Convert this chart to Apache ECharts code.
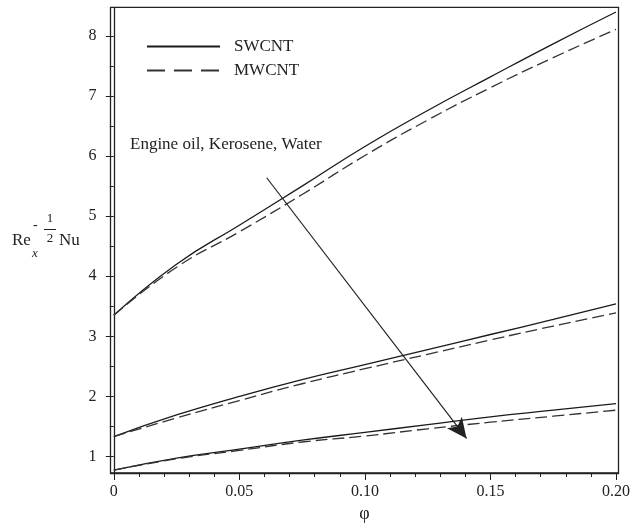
<!DOCTYPE html>
<html>
<head>
<meta charset="utf-8">
<script src="https://cdn.jsdelivr.net/npm/echarts@6/dist/echarts.min.js"></script>
<style>
  html, body { margin: 0; padding: 0; background: #fff; }
  #main { width: 630px; height: 524px; }
</style>
</head>
<body>
<div id="main"></div>
<script>
// phi values shared by every curve
var phi = [0, 0.025, 0.05, 0.075, 0.1, 0.125, 0.15, 0.175, 0.2];

// Engine oil
var oilSW = [3.35, 4.20, 4.85, 5.50, 6.16, 6.76, 7.32, 7.87, 8.40];
var oilMW = [3.35, 4.15, 4.74, 5.36, 6.01, 6.60, 7.14, 7.64, 8.11];
// Kerosene
var kerSW = [1.33, 1.69, 2.00, 2.28, 2.53, 2.78, 3.03, 3.28, 3.54];
var kerMW = [1.33, 1.64, 1.93, 2.21, 2.46, 2.70, 2.94, 3.17, 3.39];
// Water
var watSW = [0.77, 0.97, 1.12, 1.27, 1.40, 1.53, 1.66, 1.77, 1.88];
var watMW = [0.77, 0.96, 1.10, 1.24, 1.34, 1.46, 1.57, 1.67, 1.77];

var xMajor = [0, 0.05, 0.1, 0.15, 0.2];
var xMinor = [0.01, 0.02, 0.03, 0.04, 0.06, 0.07, 0.08, 0.09, 0.11, 0.12, 0.13, 0.14, 0.16, 0.17, 0.18, 0.19];
var yMajor = [1, 2, 3, 4, 5, 6, 7, 8];
var yMinor = [1.5, 2.5, 3.5, 4.5, 5.5, 6.5, 7.5];

// arrow from upper group towards lower group
var arrowFrom = [0.0609, 5.64];
var arrowTo = [0.1405, 1.30];

var serif = '"Liberation Serif", "DejaVu Serif", serif';

function pairs(ys) {
    var out = [];
    for (var i = 0; i < phi.length; i++) {
        out.push([phi[i], ys[i]]);
    }
    return out;
}

function curve(name, ys, dashed) {
    return {
        name: name,
        type: 'line',
        data: pairs(ys),
        smooth: true,
        symbol: 'none',
        silent: true,
        xAxisIndex: 0,
        yAxisIndex: 0,
        lineStyle: {
            color: dashed ? '#333' : '#1a1a1a',
            width: 1.3,
            type: dashed ? [12, 5] : 'solid'
        },
        itemStyle: { color: dashed ? '#333' : '#1a1a1a' }
    };
}

var series = [
    curve('SWCNT', oilSW, false),
    curve('MWCNT', oilMW, true),
    curve('SWCNT', kerSW, false),
    curve('MWCNT', kerMW, true),
    curve('SWCNT', watSW, false),
    curve('MWCNT', watMW, true)
];

series[0].markLine = {
    silent: true,
    symbol: ['none', 'arrow'],
    symbolSize: [14, 20],
    label: { show: false },
    lineStyle: { color: '#222', width: 1.2, type: 'solid' },
    data: [[{ coord: arrowFrom }, { coord: arrowTo }]]
};

var myChart = echarts.init(document.getElementById('main'));

var option = {
    animation: false,
    backgroundColor: '#fff',
    grid: {
        left: 110.5,
        right: 11.5,
        top: 7.3,
        bottom: 51,
        outerBoundsMode: 'none',
        show: true,
        borderColor: '#222',
        borderWidth: 1.3,
        backgroundColor: 'transparent'
    },
    legend: {
        orient: 'vertical',
        left: 141,
        top: 33,
        itemWidth: 73,
        itemHeight: 12,
        itemGap: 7,
        selectedMode: false,
        itemStyle: { opacity: 0 },
        textStyle: { fontFamily: serif, fontSize: 17, color: '#222', padding: [0, 0, 0, 9] },
        data: [
            { name: 'SWCNT' },
            { name: 'MWCNT', lineStyle: { type: [18, 9] } }
        ]
    },
    xAxis: [
        {
            type: 'value',
            min: -0.0013,
            max: 0.2010,
            name: 'φ',
            nameLocation: 'middle',
            nameGap: 32,
            nameTextStyle: { fontFamily: serif, fontSize: 18, color: '#222' },
            axisLine: { show: true, lineStyle: { color: '#222', width: 1.3 } },
            axisTick: { show: true, length: 7, customValues: xMajor, lineStyle: { color: '#222' } },
            axisLabel: {
                customValues: xMajor,
                margin: 11,
                fontFamily: serif,
                fontSize: 16,
                color: '#222',
                formatter: function (v) { return v === 0 ? '0' : v.toFixed(2); }
            },
            splitLine: { show: false }
        },
        {
            type: 'value',
            min: -0.0013,
            max: 0.2010,
            position: 'bottom',
            axisLine: { show: false },
            axisTick: { show: true, length: 4, customValues: xMinor, lineStyle: { color: '#222' } },
            axisLabel: { show: false },
            splitLine: { show: false }
        }
    ],
    yAxis: [
        {
            type: 'value',
            min: 0.724,
            max: 8.478,
            axisLine: { show: true, lineStyle: { color: '#222', width: 1.3 } },
            axisTick: { show: true, length: 8, customValues: yMajor, lineStyle: { color: '#222' } },
            axisLabel: {
                customValues: yMajor,
                margin: 14,
                fontFamily: serif,
                fontSize: 16,
                color: '#222'
            },
            splitLine: { show: false }
        },
        {
            type: 'value',
            min: 0.724,
            max: 8.478,
            position: 'left',
            axisLine: { show: false },
            axisTick: { show: true, length: 4, customValues: yMinor, lineStyle: { color: '#222' } },
            axisLabel: { show: false },
            splitLine: { show: false }
        }
    ],
    graphic: [
        {
            type: 'text', left: 130, top: 136, silent: true,
            style: { text: 'Engine oil, Kerosene, Water', font: '17px ' + serif, fill: '#222' }
        },
        // y axis title: Re_x^(-1/2) Nu
        { type: 'text', x: 12, y: 241, silent: true,
          style: { text: 'Re', font: '17px ' + serif, fill: '#222', textVerticalAlign: 'middle' } },
        { type: 'text', x: 32, y: 254, silent: true,
          style: { text: 'x', font: 'italic 13px ' + serif, fill: '#222', textVerticalAlign: 'middle' } },
        { type: 'text', x: 33, y: 225, silent: true,
          style: { text: '-', font: '14px ' + serif, fill: '#222', textVerticalAlign: 'middle' } },
        { type: 'text', x: 50, y: 219, silent: true,
          style: { text: '1', font: '13px ' + serif, fill: '#222', textAlign: 'center', textVerticalAlign: 'middle' } },
        { type: 'line', silent: true,
          shape: { x1: 44, y1: 229.5, x2: 56, y2: 229.5 },
          style: { stroke: '#222', lineWidth: 1 } },
        { type: 'text', x: 50, y: 239, silent: true,
          style: { text: '2', font: '13px ' + serif, fill: '#222', textAlign: 'center', textVerticalAlign: 'middle' } },
        { type: 'text', x: 59, y: 241, silent: true,
          style: { text: 'Nu', font: '17px ' + serif, fill: '#222', textVerticalAlign: 'middle' } }
    ],
    series: series
};

myChart.setOption(option);
window.addEventListener('resize', function () {
    myChart.resize();
});
</script>
</body>
</html>
